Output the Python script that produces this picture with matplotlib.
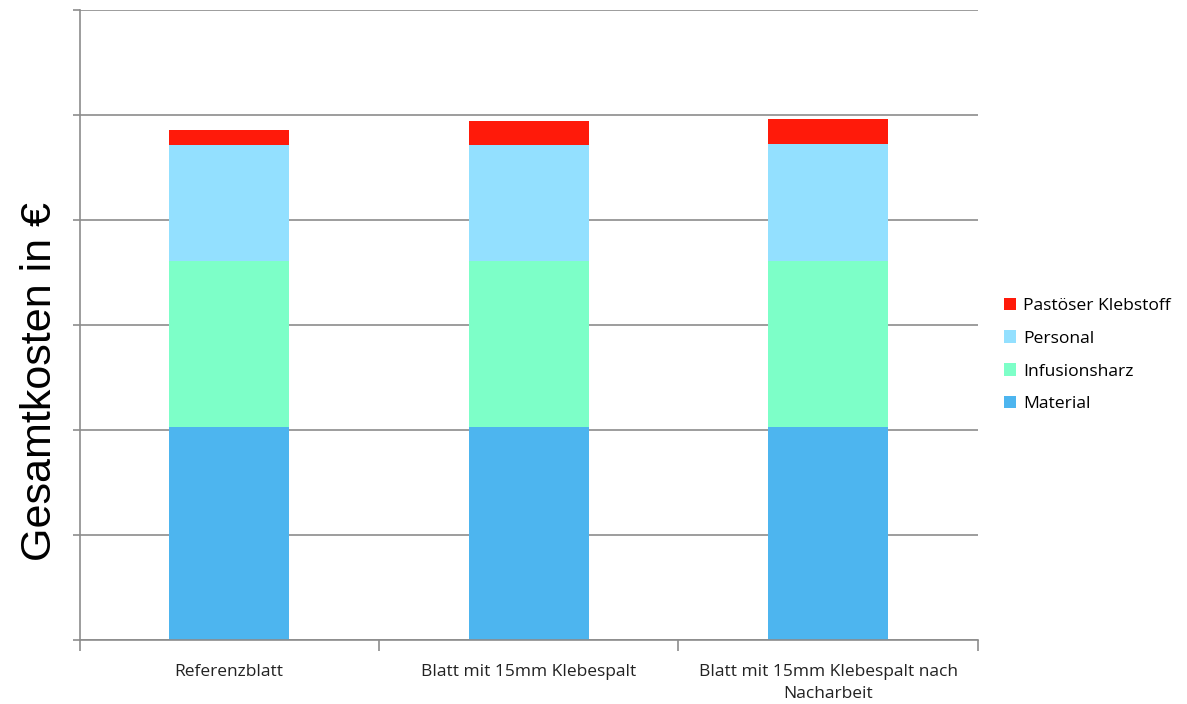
import matplotlib
matplotlib.use("Agg")
import matplotlib.pyplot as plt
from matplotlib.patches import Patch

categories = ["Referenzblatt", "Blatt mit 15mm Klebespalt", "Blatt mit 15mm Klebespalt nach\nNacharbeit"]
material = [2.024, 2.024, 2.024]
infusionsharz = [1.582, 1.582, 1.582]
personal = [1.101, 1.101, 1.113]
klebstoff = [0.146, 0.234, 0.235]

series = [
    ("Material", material, "#4DB5EF"),
    ("Infusionsharz", infusionsharz, "#7DFFC8"),
    ("Personal", personal, "#93E0FF"),
    ("Pastöser Klebstoff", klebstoff, "#FF1A0A"),
]

W, H = 1187, 704
fig = plt.figure(figsize=(W / 100, H / 100), dpi=100)
ax = fig.add_axes([79.5 / W, (H - 640) / H, (978 - 79.5) / W, (640 - 9.5) / H])

x = list(range(len(categories)))
bottom = [0.0] * len(categories)
for name, vals, col in series:
    ax.bar(x, vals, width=0.4, bottom=bottom, color=col, zorder=2, linewidth=0)
    bottom = [b + v for b, v in zip(bottom, vals)]

grid_col = "#8C8C8C"
ax.set_ylim(0, 6)
ax.set_xlim(-0.5, 2.5)
ax.set_yticks(range(0, 7))
ax.set_yticklabels([])
ax.yaxis.grid(True, color=grid_col, linewidth=1.2, zorder=0)
ax.tick_params(axis="y", length=5, color=grid_col, width=1.2, direction="out")

ax.set_xticks(x)
ax.set_xticklabels(categories, fontsize=12.5, family="Open Sans", color="#222222",
                   linespacing=1.5)
ax.tick_params(axis="x", length=0, pad=17)
ax.set_xticks([-0.5, 0.5, 1.5, 2.5], minor=True)
ax.tick_params(axis="x", which="minor", length=8, color=grid_col, width=1.2)

for s in ["top", "right"]:
    ax.spines[s].set_visible(False)
for s in ["left", "bottom"]:
    ax.spines[s].set_color(grid_col)
    ax.spines[s].set_linewidth(1.2)

fig.text(40 / W, 1 - 382 / H, "Gesamtkosten in €", rotation=90, fontsize=31,
         family="Liberation Sans", ha="center", va="center", color="black")

handles = [Patch(facecolor=col, edgecolor="none", label=name) for name, _, col in reversed(series)]
fig.legend(handles=handles, loc="center left", bbox_to_anchor=(988 / W, 1 - 355 / H),
           frameon=False, prop={"family": "Open Sans", "size": 12.6},
           handlelength=0.7, handleheight=0.7, handletextpad=0.4, labelspacing=0.95)

fig.savefig("out.png", dpi=100, facecolor="white")
